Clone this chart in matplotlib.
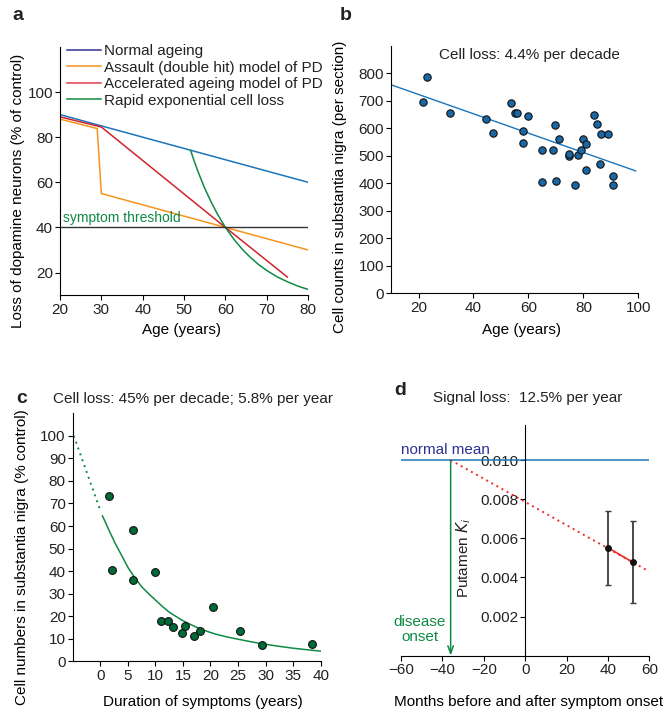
import matplotlib
matplotlib.use("Agg")
import matplotlib.pyplot as plt
from matplotlib.lines import Line2D

plt.rcParams['font.family'] = ['Liberation Sans', 'DejaVu Sans']
plt.rcParams['font.size'] = 11
plt.rcParams['axes.linewidth'] = 0.8
plt.rcParams['xtick.major.size'] = 3.5
plt.rcParams['ytick.major.size'] = 3.5
plt.rcParams['xtick.major.pad'] = 2
plt.rcParams['ytick.major.pad'] = 1.5
plt.rcParams['text.color'] = '#222222'
plt.rcParams['xtick.labelcolor'] = '#222222'
plt.rcParams['ytick.labelcolor'] = '#222222'

BLUE = '#1b75bb'
NAVY = '#2e3192'
ORANGE = '#f7941d'
RED = '#d2232a'
GREEN = '#0f8a45'
DKGREEN = '#006b36'

# ---------- panel a : models ----------
normal_x = [20, 80]
normal_y = [90, 60]
assault_x = [20, 29, 30, 60, 80]
assault_y = [88, 83.8, 55, 40, 30]
accel_x = [20, 30, 60, 75]
accel_y = [89, 84.5, 40, 18]
rapid_x = [51.6, 52.5, 53.5, 55, 56.5, 58, 60, 62, 64, 66, 68, 70, 72.5, 75, 77.5, 80]
rapid_y = [74.1, 69.2, 64.2, 57.4, 51.5, 46.2, 40.0, 34.9, 30.5, 26.8, 23.6, 20.9, 18.1, 15.9, 14.0, 12.5]
threshold = 40
legend_labels = ['Normal ageing', 'Assault (double hit) model of PD',
                 'Accelerated ageing model of PD', 'Rapid exponential cell loss']

# ---------- panel b : cell counts vs age ----------
b_age = [21.7, 23.0, 31.4, 44.5, 47.2, 53.8, 55.0, 55.7, 58.2, 58.2, 59.9, 65.0, 65.0,
         69.5, 68.9, 69.9, 71.3, 74.9, 74.9, 77.1, 78.0, 79.0, 80.0, 80.8, 80.8, 83.8,
         85.0, 86.1, 86.4, 88.8, 90.7, 90.7]
b_count = [694, 787, 657, 632, 584, 691, 654, 654, 591, 546, 644, 522, 405,
           613, 522, 407, 560, 498, 508, 394, 504, 521, 560, 543, 450, 648,
           614, 470, 578, 578, 427, 395]
b_fit_x = [10, 99]
b_fit_y = [758, 445]

# ---------- panel c : cell numbers vs duration ----------
c_dur = [1.6, 2.2, 6.0, 6.0, 10.0, 11.1, 12.2, 13.2, 14.9, 15.3, 17.0, 18.1, 20.4, 25.4, 29.3, 38.4]
c_pct = [73.2, 40.4, 58.1, 36.1, 39.8, 17.8, 17.8, 15.2, 12.6, 15.5, 11.4, 13.5, 24.0, 13.5, 7.1, 7.7]
c_dot_x = [-4.8, 0]
c_dot_y = [100, 67]
c_curve_x = [0.4, 1.5, 2.7, 4, 5.1, 6.3, 7.5, 8.8, 10, 11.2, 12.4, 13.6, 14.8, 16, 17.2,
             18.4, 19.6, 21, 23, 25.4, 27.5, 29.3, 32, 35, 38.4, 40.5]
c_curve_y = [64.5, 58.6, 52.3, 46.4, 41.3, 37.0, 33.1, 29.9, 27.2, 24.5, 22.0, 20.1, 18.3, 16.8, 15.4,
             14.2, 13.1, 12.0, 10.8, 9.6, 8.6, 7.8, 6.8, 5.8, 4.9, 4.4]

# ---------- panel d : putamen Ki ----------
d_normal = 0.010
d_onset = -36
d_months = [40, 52]
d_ki = [0.00552, 0.00478]
d_err_lo = [0.00189, 0.00207]
d_err_hi = [0.00187, 0.00209]
d_trend_x = [-36, 60]
d_trend_y = [0.010, 0.0043]

fig = plt.figure(figsize=(6.69, 7.11), dpi=100)

def clean(ax):
    ax.spines['top'].set_visible(False)
    ax.spines['right'].set_visible(False)

# ===== a =====
ax = fig.add_axes([0.0897, 0.585, 0.3707, 0.349])
clean(ax)
ax.plot(normal_x, normal_y, color=BLUE, lw=1.1)
ax.plot(assault_x, assault_y, color=ORANGE, lw=1.1)
ax.plot(accel_x, accel_y, color=RED, lw=1.1)
ax.plot(rapid_x, rapid_y, color=GREEN, lw=1.1)
ax.plot([20, 80], [threshold, threshold], color='#333333', lw=1.0)
ax.text(20.8, threshold + 1, 'symptom threshold', color=GREEN, fontsize=10, va='bottom')
ax.set_xlim(20, 80)
ax.set_ylim(10, 120)
ax.set_xticks(range(20, 81, 10))
ax.set_yticks(range(20, 101, 20))
ax.set_xlabel('Age (years)', va='center')
ax.xaxis.set_label_coords(0.49, -0.141)
ax.set_ylabel('Loss of dopamine neurons (% of control)', va='center')
ax.yaxis.set_label_coords(-0.169, 0.419)
handles = [Line2D([], [], color=c, lw=1.1) for c in [NAVY, ORANGE, '#e0404f', GREEN]]
ax.legend(handles, legend_labels, loc='upper left', bbox_to_anchor=(0.03, 1.012),
          frameon=False, handlelength=2.2, handletextpad=0.2, labelspacing=0.17,
          borderpad=0, borderaxespad=0, fontsize=11)
fig.text(0.018, 0.978, 'a', fontsize=14, fontweight='bold', va='center')

# ===== b =====
ax = fig.add_axes([0.5845, 0.5875, 0.3697, 0.3482])
clean(ax)
ax.plot(b_fit_x, b_fit_y, color=BLUE, lw=1.0)
ax.plot(b_age, b_count, 'o', ms=5.3, mfc='#1a67a6', mec='#111111', mew=0.8)
ax.text(60.5, 868, 'Cell loss: 4.4% per decade', ha='center', va='center')
ax.set_xlim(10, 100)
ax.set_ylim(0, 900)
ax.set_xticks(range(20, 101, 20))
ax.set_yticks(range(0, 801, 100))
ax.set_xlabel('Age (years)', va='center')
ax.xaxis.set_label_coords(0.528, -0.148)
ax.set_ylabel('Cell counts in substantia nigra (per section)', va='center')
ax.yaxis.set_label_coords(-0.206, 0.429)
fig.text(0.508, 0.978, 'b', fontsize=14, fontweight='bold', va='center')

# ===== c =====
ax = fig.add_axes([0.1087, 0.0699, 0.3707, 0.3488])
clean(ax)
ax.plot(c_dot_x, c_dot_y, color=GREEN, lw=1.4, linestyle=(0, (1, 2.2)))
ax.plot(c_curve_x, c_curve_y, color=GREEN, lw=1.1)
ax.plot(c_dur, c_pct, 'o', ms=5.6, mfc=DKGREEN, mec='#111111', mew=0.8)
ax.set_xlim(-5, 40)
ax.set_ylim(0, 110)
ax.set_xticks(range(0, 41, 5))
ax.set_yticks(range(0, 101, 10))
ax.set_xlabel('Duration of symptoms (years)', va='center')
ax.xaxis.set_label_coords(0.525, -0.164)
ax.set_ylabel('Cell numbers in substantia nigra (% control)', va='center')
ax.yaxis.set_label_coords(-0.204, 0.42)
fig.text(0.025, 0.44, 'c', fontsize=14, fontweight='bold', va='center')
fig.text(0.079, 0.439, 'Cell loss: 45% per decade; 5.8% per year', va='center')

# ===== d =====
ax = fig.add_axes([0.5994, 0.0778, 0.3712, 0.3245])
ax.spines['top'].set_visible(False)
ax.spines['right'].set_visible(False)
ax.spines['left'].set_position(('data', 0))
ax.plot([-60, 60], [d_normal, d_normal], color=BLUE, lw=1.1)
ax.plot(d_trend_x, d_trend_y, color='#ee2a2a', lw=1.4, linestyle=(0, (1, 2)))
ax.plot(d_months, d_ki, color='#ee2a2a', lw=1.2)
ax.errorbar(d_months, d_ki, yerr=[d_err_lo, d_err_hi], fmt='o', ms=4, color='#111111',
            ecolor='#3a3a3a', elinewidth=1.3, capsize=2.2, capthick=1.0)
ax.annotate('', xy=(d_onset, 0), xytext=(d_onset, d_normal),
            arrowprops=dict(arrowstyle='->,head_length=0.5,head_width=0.18', color=GREEN, lw=1.1,
                            shrinkA=0, shrinkB=0))
ax.text(-60, d_normal + 0.00015, 'normal mean', color=NAVY, va='bottom', ha='left')
ax.text(-51, 0.00135, 'disease\nonset', color=GREEN, ha='center', va='center',
        linespacing=1.12)
ax.text(-29.5, 0.0050, 'Putamen $K_i$', rotation=90, ha='center', va='center')
ax.set_xlim(-60, 60)
ax.set_ylim(0, 0.0118)
ax.set_xticks(range(-60, 61, 20))
ax.set_yticks([0.002, 0.004, 0.006, 0.008, 0.010])
ax.set_yticklabels(['%.3f' % v for v in [0.002, 0.004, 0.006, 0.008, 0.010]])
ax.set_xlabel('Months before and after symptom onset', va='center')
ax.xaxis.set_label_coords(0.515, -0.2)
fig.text(0.59, 0.451, 'd', fontsize=14, fontweight='bold', va='center')
fig.text(0.647, 0.44, 'Signal loss:  12.5% per year', va='center')

fig.savefig('out.png', dpi=100)
